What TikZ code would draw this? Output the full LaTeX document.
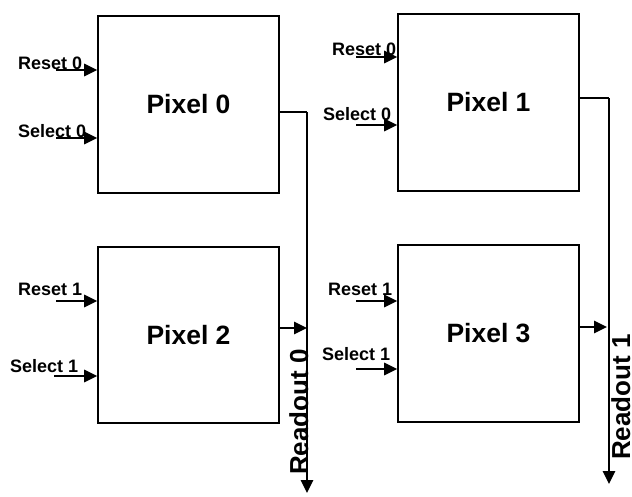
\documentclass[tikz,border=0pt]{standalone}
\usepackage{fontspec}
\setmainfont{Liberation Sans}
\usetikzlibrary{arrows.meta}
\begin{document}
\begin{tikzpicture}[x=1pt,y={(0,-1pt)},
  pixbox/.style={draw,line width=1.6pt,inner sep=0pt,minimum width=181pt,font=\fontsize{26.5}{30}\selectfont\bfseries},
  sig/.style={inner sep=0pt,anchor=base west,font=\fontsize{18}{21}\selectfont\bfseries},
  busl/.style={inner sep=0pt,anchor=base west,rotate=90,font=\fontsize{26}{30}\selectfont\bfseries},
  wire/.style={line width=1.5pt},
  arr/.style={line width=1.5pt,-{Triangle[length=13pt,width=12.5pt]}}]
\useasboundingbox (0,0) rectangle (632,496);
% boxes
\node[pixbox,minimum height=177pt] (p0) at (188.5,104.5) {Pixel 0};
\node[pixbox,minimum height=177pt] (p1) at (488.5,102.5) {Pixel 1};
\node[pixbox,minimum height=176pt] (p2) at (188.5,335) {Pixel 2};
\node[pixbox,minimum height=177pt] (p3) at (488.5,333.5) {Pixel 3};
% signal labels
\node[sig] (l0r) at (18,69) {Reset 0};
\node[sig] (l0s) at (18,137) {Select 0};
\node[sig] (l1r) at (332,55) {Reset 0};
\node[sig] (l1s) at (323,120) {Select 0};
\node[sig] (l2r) at (18,295) {Reset 1};
\node[sig] (l2s) at (10,372) {Select 1};
\node[sig] (l3r) at (328,295) {Reset 1};
\node[sig] (l3s) at (322,360) {Select 1};
% input start points
\coordinate (i0r) at (56,70);
\coordinate (i0s) at (56,138);
\coordinate (i1r) at (356,57);
\coordinate (i1s) at (356,125);
\coordinate (i2r) at (56,301);
\coordinate (i2s) at (54,376);
\coordinate (i3r) at (356,301);
\coordinate (i3s) at (356,369);
\draw[arr] (i0r) -- (i0r -| p0.west);
\draw[arr] (i0s) -- (i0s -| p0.west);
\draw[arr] (i1r) -- (i1r -| p1.west);
\draw[arr] (i1s) -- (i1s -| p1.west);
\draw[arr] (i2r) -- (i2r -| p2.west);
\draw[arr] (i2s) -- (i2s -| p2.west);
\draw[arr] (i3r) -- (i3r -| p3.west);
\draw[arr] (i3s) -- (i3s -| p3.west);
% readout buses
\coordinate (b0top) at (307,112);
\coordinate (b0end) at (307,493);
\coordinate (b1top) at (609,98);
\coordinate (b1end) at (609,484);
\coordinate (o2) at (307,328);
\coordinate (o3) at (607,327);
\draw[wire] (p0.east |- b0top) -- (b0top);
\draw[arr] (b0top) -- (b0end);
\draw[wire] (p1.east |- b1top) -- (b1top);
\draw[arr] (b1top) -- (b1end);
\draw[arr] (p2.east |- o2) -- (o2);
\draw[arr] (p3.east |- o3) -- (o3);
% bus labels
\node[busl] (r0) at (308,475) {Readout 0};
\node[busl] (r1) at (630,460) {Readout 1};
\end{tikzpicture}
\end{document}
